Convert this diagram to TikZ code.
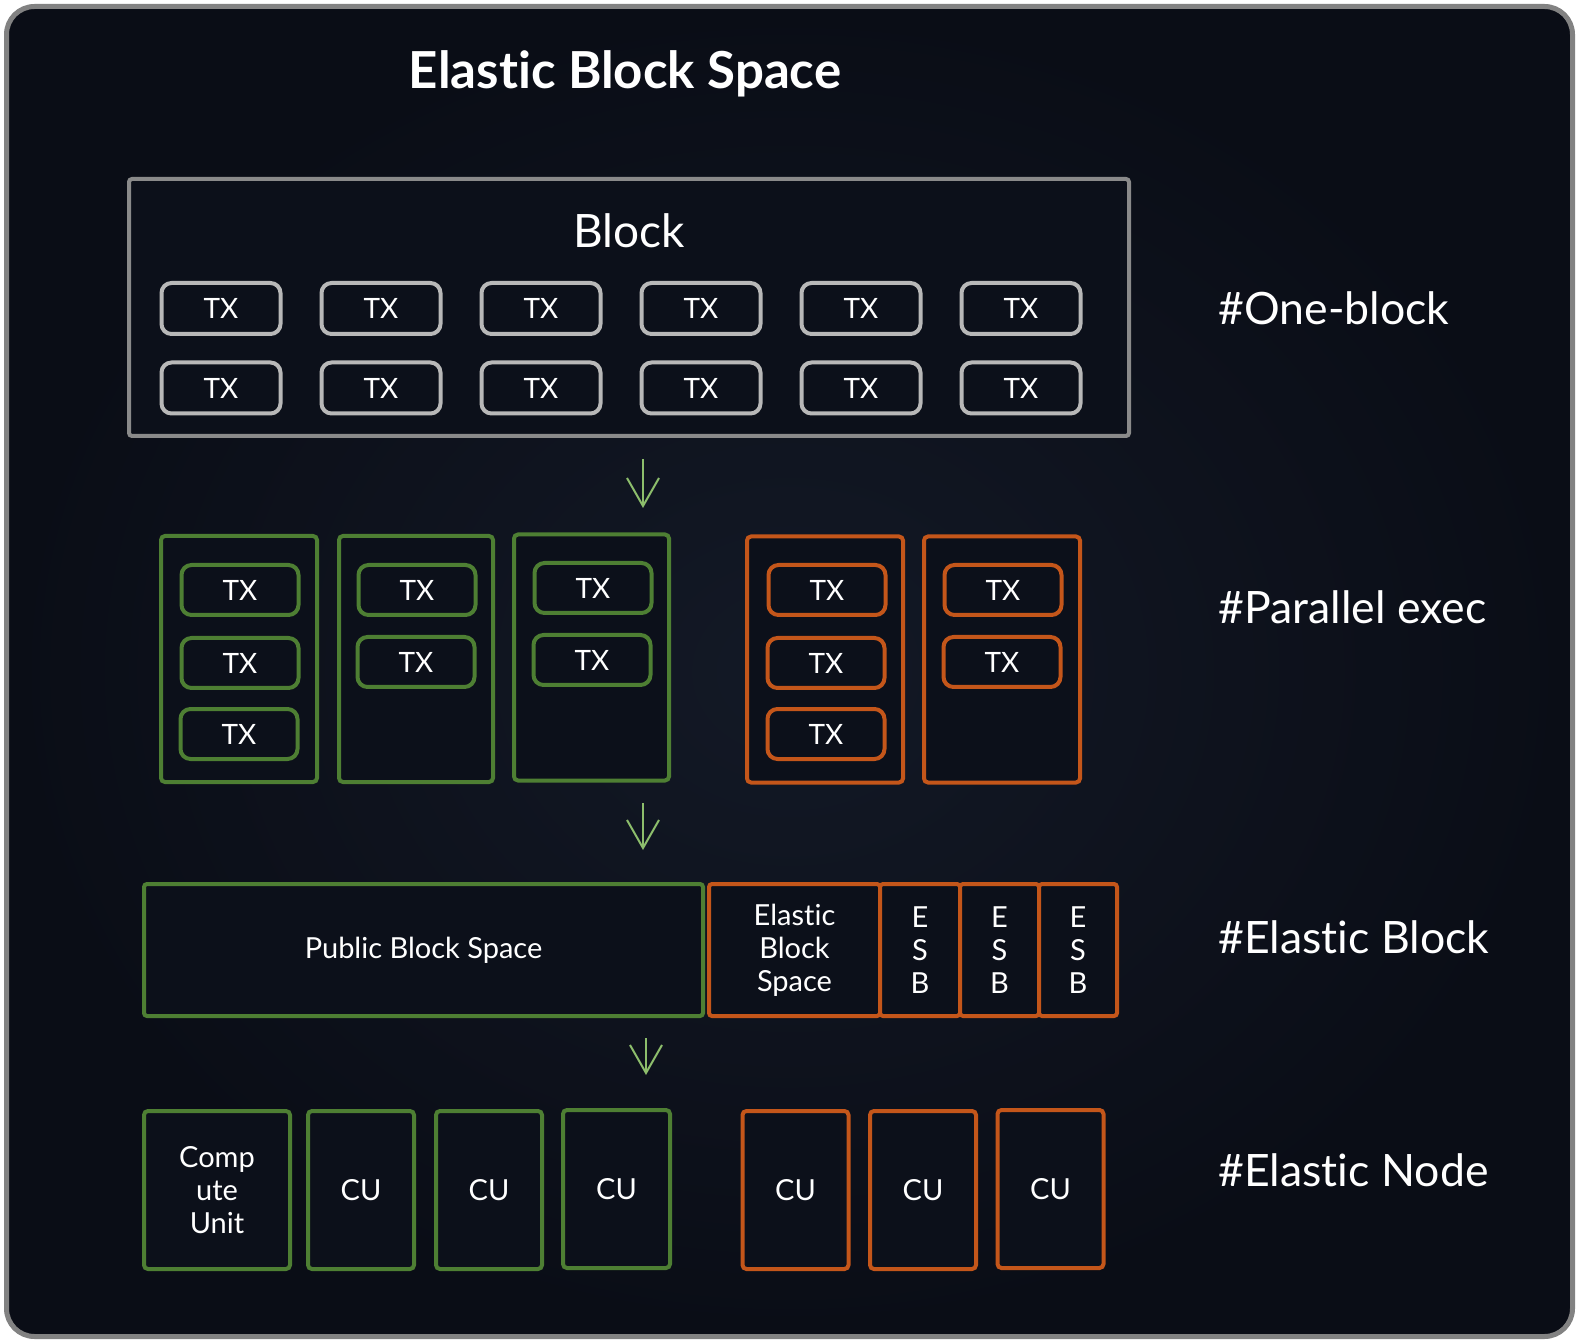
\documentclass[tikz,border=0pt]{standalone}
\usepackage{fontspec}
\setmainfont{Lato}[Ligatures=NoCommon]
\usetikzlibrary{arrows.meta}
\definecolor{bgin}{HTML}{131926}
\definecolor{bgout}{HTML}{0A0D16}
\definecolor{framegray}{HTML}{828282}
\definecolor{blockgray}{HTML}{8A8A8A}
\definecolor{txgray}{HTML}{B8B8B8}
\definecolor{grn}{HTML}{4E7F33}
\definecolor{org}{HTML}{C4561A}
\definecolor{arrowgreen}{HTML}{8DBE6C}
\definecolor{boxfill}{HTML}{0C101A}
\begin{document}
\begin{tikzpicture}[x=0.5pt,y=-0.5pt,
  base/.style={inner sep=0pt, text=white, fill=boxfill, line width=2pt},
  txbox/.style={base, draw=txgray, rounded corners=5pt, minimum width=59.5pt, minimum height=25.5pt, font=\fontsize{14}{16}\selectfont},
  gtx/.style={txbox, draw=grn, minimum width=58.5pt, minimum height=25pt},
  otx/.style={gtx, draw=org},
  lane/.style={base, draw=grn, rounded corners=2pt, minimum width=78pt, minimum height=123pt},
  olane/.style={lane, draw=org},
  seg/.style={base, rounded corners=1.5pt, minimum height=66pt, font=\fontsize{14.5}{16.5}\selectfont, align=center},
  cu/.style={base, rounded corners=2pt, minimum height=79pt, minimum width=53pt, font=\fontsize{14.5}{16.5}\selectfont, align=center},
  tag/.style={anchor=base west, text=white, font=\fontsize{22.3}{26}\selectfont, inner sep=0pt},
  flow/.style={draw=arrowgreen, line width=1pt, -{Straight Barb[length=14pt,width=16pt]}}
]
\useasboundingbox (0,0) rectangle (1581,1342);
\fill[white] (0,0) rectangle (1581,1342);
\shade[inner color=bgin, outer color=bgout, rounded corners=14pt] (6.5,6.5) rectangle (1572.5,1336.5);
\draw[framegray, line width=2.5pt, rounded corners=14pt] (6.5,6.5) rectangle (1572.5,1336.5);

% title
\node[anchor=base, text=white, inner sep=0pt, font=\fontsize{25.5}{30}\bfseries\selectfont] (title) at (625,89) {Elastic Block Space};

% one block
\node[base, draw=blockgray, rounded corners=1.5pt, minimum width=500pt, minimum height=128.5pt, fill=boxfill] (block) at (629,307.5) {};
\node[anchor=base, text=white, inner sep=0pt, font=\fontsize{23}{28}\selectfont] (blocklabel) at (629,248) {Block};
\foreach \i/\x in {1/221,2/381,3/541,4/701,5/861,6/1021}{
  \node[txbox] (ta\i) at (\x,308.5) {TX};
  \node[txbox] (tb\i) at (\x,388) {TX};
}

% parallel exec
\node[lane] (g1) at (239,659) {};
\node[lane, minimum width=77pt] (g2) at (416,659) {};
\node[lane, minimum width=77.5pt] (g3) at (591.5,657.5) {};
\node[olane] (o1) at (825,659.5) {};
\node[olane] (o2) at (1002,659.5) {};
\node[gtx] (g1a) at (240,590) {TX};
\node[gtx] (g1b) at (240,663) {TX};
\node[gtx] (g1c) at (239,734) {TX};
\node[gtx] (g2a) at (417,590) {TX};
\node[gtx] (g2b) at (416,662) {TX};
\node[gtx] (g3a) at (593,588) {TX};
\node[gtx] (g3b) at (592,660) {TX};
\node[otx] (o1a) at (827,590) {TX};
\node[otx] (o1b) at (826,663) {TX};
\node[otx] (o1c) at (826,734) {TX};
\node[otx] (o2a) at (1003,590) {TX};
\node[otx] (o2b) at (1002,662) {TX};

% elastic block
\node[seg, draw=grn, minimum width=279.5pt] (pub) at (423.5,950) {Public Block Space};
\node[seg, draw=org, minimum width=85.5pt] (ebs) at (794.5,950) {Elastic\\Block\\Space};
\node[seg, draw=org, minimum width=40pt] (esb1) at (920,950) {E\\S\\B};
\node[seg, draw=org, minimum width=39.5pt] (esb2) at (999.5,950) {E\\S\\B};
\node[seg, draw=org, minimum width=39pt] (esb3) at (1078,950) {E\\S\\B};

% elastic node
\node[cu, draw=grn, minimum width=73pt] (c1) at (217,1190) {Comp\\ute\\Unit};
\node[cu, draw=grn] (c2) at (361,1190) {CU};
\node[cu, draw=grn] (c3) at (489,1190) {CU};
\node[cu, draw=grn, minimum width=53.5pt] (c4) at (616.5,1189) {CU};
\node[cu, draw=org] (c5) at (795.5,1190) {CU};
\node[cu, draw=org] (c6) at (923,1190) {CU};
\node[cu, draw=org] (c7) at (1050.5,1189) {CU};

% arrows
\coordinate (a1s) at (643,459); \coordinate (a1e) at (643,508);
\coordinate (a2s) at (643,803); \coordinate (a2e) at (643,850);
\coordinate (a3s) at (646,1038); \coordinate (a3e) at (646,1075);
\draw[flow] (a1s) -- (a1e);
\draw[flow] (a2s) -- (a2e);
\draw[flow] (a3s) -- (a3e);

% tags
\node[tag] (t1) at (1218,325) {\#One-block};
\node[tag] (t2) at (1218,624) {\#Parallel exec};
\node[tag] (t3) at (1218,953) {\#Elastic Block};
\node[tag] (t4) at (1218,1186) {\#Elastic Node};
\end{tikzpicture}
\end{document}
